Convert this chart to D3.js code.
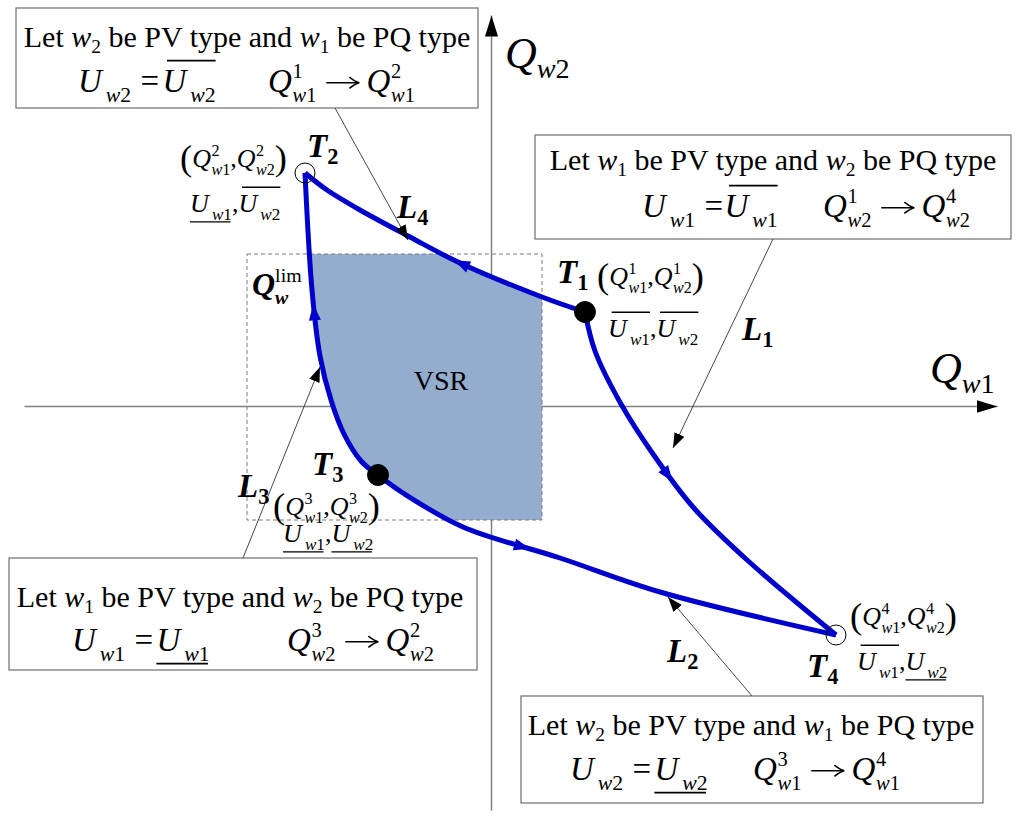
<!DOCTYPE html>
<html>
<head>
<meta charset="utf-8">
<script src="https://cdn.jsdelivr.net/npm/d3@7"></script>
<style>
  html, body { margin: 0; padding: 0; background: #fff; }
  svg { display: block; font-family: "Liberation Serif", "Times New Roman", serif; }
  svg text { white-space: pre; }
</style>
</head>
<body>
<script>
/***** Data (Qw1, Qw2 in plot units) *****/
var pointNames = ["T1", "T2", "T3", "T4"];
var pointQw1 = [0.94, -1.86, -1.13, 3.45];
var pointQw2 = [0.94, 2.33, -0.69, -2.29];
var pointFilled = [true, false, true, false];

var curveNames = ["L1", "L2", "L3", "L4"];
var curveL1 = [[0.94, 0.94], [1.04, 0.55], [1.30, 0.02], [1.62, -0.48], [2.02, -1.01], [2.55, -1.53], [3.45, -2.29]];
var curveL2 = [[-1.13, -0.69], [-0.88, -0.87], [-0.28, -1.21], [0.69, -1.52], [1.69, -1.86], [3.45, -2.29]];
var curveL3 = [[-1.13, -0.69], [-1.30, -0.55], [-1.47, -0.28], [-1.60, 0.06], [-1.71, 0.50], [-1.79, 1.16], [-1.86, 2.33]];
var curveL4 = [[0.94, 0.94], [0.51, 1.09], [-0.31, 1.43], [-0.81, 1.69], [-1.31, 1.96], [-1.64, 2.16], [-1.86, 2.33]];

var qw1Limit = [-2.44, 0.51];
var qw2Limit = [-1.14, 1.52];

(function (d3) {
  "use strict";

  /***** Configuration *****/
  var width = 1024, height = 819;
  var blue = "#0000cc";
  var serif = "\"Liberation Serif\", \"Times New Roman\", serif";

  /***** Scales *****/
  var xScale = d3.scaleLinear().domain([-4.67, 5.06]).range([24, 997]);
  var yScale = d3.scaleLinear().domain([-4.04, 3.91]).range([810, 15]);

  var svg = d3.select("body").append("svg")
      .attr("width", width)
      .attr("height", height);

  var defs = svg.append("defs");
  function marker(id, len, half) {
    defs.append("marker")
        .attr("id", id)
        .attr("viewBox", (-len) + " " + (-half) + " " + len + " " + (2 * half))
        .attr("refX", 0).attr("refY", 0)
        .attr("markerUnits", "userSpaceOnUse")
        .attr("markerWidth", len).attr("markerHeight", 2 * half)
        .attr("orient", "auto")
      .append("path")
        .attr("d", "M0,0L" + (-len) + "," + (-half) + "L" + (-len) + "," + half + "Z")
        .attr("fill", "#000");
  }
  marker("axisHead", 21, 6.5);
  marker("pointerHead", 15, 5.5);

  /***** Axes *****/
  var xAxis = d3.axisBottom(xScale).tickValues([]).tickSizeOuter(0);
  var yAxis = d3.axisLeft(yScale).tickValues([]).tickSizeOuter(0);

  var gx = svg.append("g").attr("transform", "translate(0," + yScale(0) + ")").call(xAxis);
  var gy = svg.append("g").attr("transform", "translate(" + xScale(0) + ",0)").call(yAxis);
  [gx, gy].forEach(function (g) {
    g.select(".domain")
        .attr("stroke", "#808080")
        .attr("stroke-width", 1.5)
        .attr("marker-end", "url(#axisHead)");
  });

  /***** Curves *****/
  var line = d3.line()
      .x(function (d) { return xScale(d[0]); })
      .y(function (d) { return yScale(d[1]); })
      .curve(d3.curveCatmullRom.alpha(0.5));

  var curves = [curveL1, curveL2, curveL3, curveL4];

  // voltage security region: loop of the four trajectories clipped to the Q limits
  defs.append("clipPath").attr("id", "limClip")
    .append("rect")
      .attr("x", xScale(qw1Limit[0]))
      .attr("y", yScale(qw2Limit[1]))
      .attr("width", xScale(qw1Limit[1]) - xScale(qw1Limit[0]))
      .attr("height", yScale(qw2Limit[0]) - yScale(qw2Limit[1]));

  var loop = line(curveL3) +
      line(curveL4.slice().reverse()).replace(/^M/, "L") +
      line(curveL1).replace(/^M/, "L") +
      line(curveL2.slice().reverse()).replace(/^M/, "L") + "Z";

  svg.append("path")
      .attr("d", loop)
      .attr("fill", "#94adce")
      .attr("clip-path", "url(#limClip)");

  svg.append("rect")
      .attr("x", xScale(qw1Limit[0]))
      .attr("y", yScale(qw2Limit[1]))
      .attr("width", xScale(qw1Limit[1]) - xScale(qw1Limit[0]))
      .attr("height", yScale(qw2Limit[0]) - yScale(qw2Limit[1]))
      .attr("fill", "none")
      .attr("stroke", "#7a7a7a")
      .attr("stroke-width", 1)
      .attr("stroke-dasharray", "4,3");

  var paths = svg.append("g").selectAll("path")
    .data(curves)
    .enter().append("path")
      .attr("d", line)
      .attr("fill", "none")
      .attr("stroke", blue)
      .attr("stroke-width", 5)
      .attr("stroke-linejoin", "round");

  // direction arrows part way along each trajectory
  var arrowAt = [0.44, 0.33, 0.56, 0.42];
  paths.each(function (d, i) {
    var len = this.getTotalLength();
    var p = this.getPointAtLength(len * arrowAt[i]);
    var q = this.getPointAtLength(len * arrowAt[i] + 2);
    var ang = Math.atan2(q.y - p.y, q.x - p.x) * 180 / Math.PI;
    svg.append("path")
        .attr("d", "M9,0L-7,-6L-7,6Z")
        .attr("fill", blue)
        .attr("transform", "translate(" + p.x + "," + p.y + ") rotate(" + ang + ")");
  });

  /***** Operating points *****/
  svg.append("g").selectAll("circle")
    .data(pointNames)
    .enter().append("circle")
      .attr("cx", function (d, i) { return xScale(pointQw1[i]); })
      .attr("cy", function (d, i) { return yScale(pointQw2[i]); })
      .attr("r", function (d, i) { return pointFilled[i] ? 10.5 : 10; })
      .attr("fill", function (d, i) { return pointFilled[i] ? "#000" : "none"; })
      .attr("stroke", "#000")
      .attr("stroke-width", 1);

  /***** Math-like text layout *****/
  function drawMath(parts, x, y, size, opts) {
    opts = opts || {};
    var grp = svg.append("g");
    var cx = 0;
    function txt(str, px, py, sz, italic, bold) {
      var t = grp.append("text").attr("x", px).attr("y", py)
          .style("font-family", serif)
          .style("font-size", sz + "px")
          .style("font-style", italic ? "italic" : "normal")
          .style("font-weight", bold ? "bold" : "normal")
          .text(str);
      return t.node().getComputedTextLength();
    }
    function script(str, px, py, sz, bold, upright) {
      var t = grp.append("text").attr("x", px).attr("y", py)
          .style("font-family", serif)
          .style("font-size", sz + "px")
          .style("font-weight", bold ? "bold" : "normal");
      str.split("").forEach(function (ch) {
        t.append("tspan")
            .style("font-style", !upright && /[a-z]/.test(ch) ? "italic" : "normal")
            .text(ch);
      });
      return t.node().getComputedTextLength();
    }
    function run(list) {
      list.forEach(function (p) {
        if (typeof p === "string") { cx += txt(p, cx, 0, size, false, opts.bold); return; }
        if (p.gap) { cx += p.gap * size; return; }
        if (p.paren) { cx += txt(p.paren, cx, size * 0.12, size * 1.4, false, false); return; }
        if (p.arrow) {
          var a0 = cx + 0.3 * size, a1 = a0 + 1.0 * size, ay = -0.28 * size;
          grp.append("line").attr("x1", a0).attr("x2", a1 - 1).attr("y1", ay).attr("y2", ay)
              .attr("stroke", "#000").attr("stroke-width", 1.5);
          grp.append("path")
              .attr("d", "M" + (a1 - 0.3 * size) + "," + (ay - 0.17 * size) +
                  "Q" + (a1 - 0.12 * size) + "," + (ay - 0.03 * size) + " " + a1 + "," + ay +
                  "Q" + (a1 - 0.12 * size) + "," + (ay + 0.03 * size) + " " + (a1 - 0.3 * size) + "," + (ay + 0.17 * size))
              .attr("fill", "none").attr("stroke", "#000").attr("stroke-width", 1.5);
          cx = a1 + 0.22 * size;
          return;
        }
        if (p.over || p.under) {
          var x0 = cx;
          run(p.over || p.under);
          var ly = p.over ? -size * 0.95 : size * 0.38;
          grp.append("line")
              .attr("x1", x0 + (p.over ? size * 0.14 : 0)).attr("x2", cx - (p.over ? 0 : size * 0.05))
              .attr("y1", ly).attr("y2", ly)
              .attr("stroke", "#000")
              .attr("stroke-width", Math.max(1.2, size * 0.055));
          return;
        }
        var w = txt(p.b, cx, 0, size, !p.up, opts.bold);
        var sx = cx + w + (p.dx || 0) * size;
        var ss = size * (p.ss || 0.62);
        var sw = 0;
        if (p.sub) sw = Math.max(sw, script(p.sub, sx, size * (p.subY || 0.3), ss, opts.bold, false));
        if (p.sup) sw = Math.max(sw, script(p.sup, sx + (p.supDx || 0) * size, -size * 0.42, ss, opts.bold && !p.supUp, p.supUp));
        cx = sx + sw;
      });
    }
    run(parts);
    var shift = opts.anchor === "middle" ? -cx / 2 : 0;
    grp.attr("transform", "translate(" + (xScale(x) + shift) + "," + yScale(y) + ")");
    return grp;
  }

  /***** Annotation boxes *****/
  var boxes = [
    { x: [-4.75, -0.13], y: [3.98, 2.98] },
    { x: [0.44, 5.20], y: [2.71, 1.67] },
    { x: [-4.82, -0.14], y: [-1.52, -2.64] },
    { x: [0.30, 4.92], y: [-2.90, -3.97] }
  ];
  svg.append("g").selectAll("rect")
    .data(boxes)
    .enter().append("rect")
      .attr("x", function (d) { return xScale(d.x[0]); })
      .attr("y", function (d) { return yScale(d.y[0]); })
      .attr("width", function (d) { return xScale(d.x[1]) - xScale(d.x[0]); })
      .attr("height", function (d) { return yScale(d.y[1]) - yScale(d.y[0]); })
      .attr("fill", "#fff")
      .attr("stroke", "#6e6e6e")
      .attr("stroke-width", 1.2);

  var pointers = [
    [[-1.56, 2.98], [-0.83, 1.66]],
    [[2.82, 1.67], [1.82, -0.42]],
    [[-2.48, -1.52], [-1.71, 0.39]],
    [[2.61, -2.90], [1.77, -1.91]]
  ];
  svg.append("g").selectAll("line")
    .data(pointers)
    .enter().append("line")
      .attr("x1", function (d) { return xScale(d[0][0]); })
      .attr("y1", function (d) { return yScale(d[0][1]); })
      .attr("x2", function (d) { return xScale(d[1][0]); })
      .attr("y2", function (d) { return yScale(d[1][1]); })
      .attr("stroke", "#333")
      .attr("stroke-width", 0.9)
      .attr("marker-end", "url(#pointerHead)");

  function pvLine(a, b) {
    return ["Let ", { b: "w", sub: a, ss: 0.65, subY: 0.2 }, " be PV type and ",
            { b: "w", sub: b, ss: 0.65, subY: 0.2 }, " be PQ type"];
  }
  function uw(n) { return { b: "U", sub: "w" + n, dx: 0.12, ss: 0.66, subY: 0.3 }; }
  function qq(sup, sub) { return { b: "Q", sup: sup, sub: sub, ss: 0.62, dx: 0.02 }; }

  var eqSize = 33, boxSize = 30;
  drawMath(pvLine("2", "1"), -2.44, 3.59, boxSize, { anchor: "middle" });
  drawMath([uw(2), { gap: 0.28 }, "=", { gap: 0.1 }, { over: [uw(2)] }], -4.13, 3.14, eqSize);
  drawMath([qq("1", "w1"), { arrow: true }, qq("2", "w1")], -2.23, 3.14, eqSize);

  drawMath(pvLine("1", "2"), 2.82, 2.36, boxSize, { anchor: "middle" });
  drawMath([uw(1), { gap: 0.28 }, "=", { gap: 0.04 }, { over: [uw(1)] }], 1.51, 1.89, eqSize);
  drawMath([qq("1", "w2"), { arrow: true }, qq("4", "w2")], 3.32, 1.89, eqSize);

  drawMath(pvLine("1", "2"), -2.51, -2.01, boxSize, { anchor: "middle" });
  drawMath([uw(1), { gap: 0.28 }, "=", { gap: 0.1 }, { under: [uw(1)] }], -4.19, -2.45, eqSize);
  drawMath([qq("3", "w2"), { arrow: true }, qq("2", "w2")], -2.04, -2.45, eqSize);

  drawMath(pvLine("2", "1"), 2.60, -3.29, boxSize, { anchor: "middle" });
  drawMath([uw(2), { gap: 0.28 }, "=", { gap: 0.1 }, { under: [uw(2)] }], 0.79, -3.74, eqSize);
  drawMath([qq("3", "w1"), { arrow: true }, qq("4", "w1")], 2.62, -3.74, eqSize);

  /***** Point labels *****/
  var ptSize = 26;
  function coords(n) {
    return [{ paren: "(" }, qq(n, "w1"), ",", qq(n, "w2"), { paren: ")" }];
  }
  function volts(a, b) {
    var u1 = { b: "U", sub: "w1", dx: 0.12, ss: 0.66 };
    var u2 = { b: "U", sub: "w2", dx: 0.12, ss: 0.66 };
    var p = {}; p[a] = [u1];
    var q = {}; q[b] = [u2];
    return [p, ",", q];
  }
  drawMath(coords("2"), -3.11, 2.39, ptSize);
  drawMath(volts("under", "over"), -3.01, 1.94, ptSize);
  drawMath(coords("1"), 1.06, 1.21, ptSize);
  drawMath(volts("over", "over"), 1.17, 0.69, ptSize);
  drawMath(coords("3"), -2.18, -1.09, ptSize);
  drawMath(volts("under", "under"), -2.08, -1.36, ptSize);
  drawMath(coords("4"), 3.59, -2.19, ptSize);
  drawMath(volts("over", "under"), 3.66, -2.64, ptSize);

  /***** Bold names *****/
  var namePos = {
    T1: [0.66, 1.23], T2: [-1.84, 2.49], T3: [-1.79, -0.69], T4: [3.16, -2.71],
    L1: [2.51, 0.66], L2: [1.76, -2.56], L3: [-2.53, -0.91], L4: [-0.94, 1.88]
  };
  pointNames.concat(curveNames).forEach(function (n) {
    drawMath([{ b: n.charAt(0), sub: n.charAt(1), ss: 0.68, subY: 0.22 }],
        namePos[n][0], namePos[n][1], 33, { bold: true });
  });

  drawMath([{ b: "Q", sub: "w", sup: "lim", supUp: true, ss: 0.62, subY: 0.28 }], -2.39, 1.11, 32, { bold: true });

  /***** Axis labels *****/
  drawMath([{ b: "Q", sub: "w2", ss: 0.64, subY: 0.22 }], 0.14, 3.38, 44);
  drawMath([{ b: "Q", sub: "w1", ss: 0.64, subY: 0.22 }], 4.39, 0.23, 44);

  svg.append("text")
      .attr("x", xScale(-0.50))
      .attr("y", yScale(0.16))
      .attr("text-anchor", "middle")
      .style("font-family", serif)
      .style("font-size", "28px")
      .text("VSR");

})(d3);
</script>
</body>
</html>
